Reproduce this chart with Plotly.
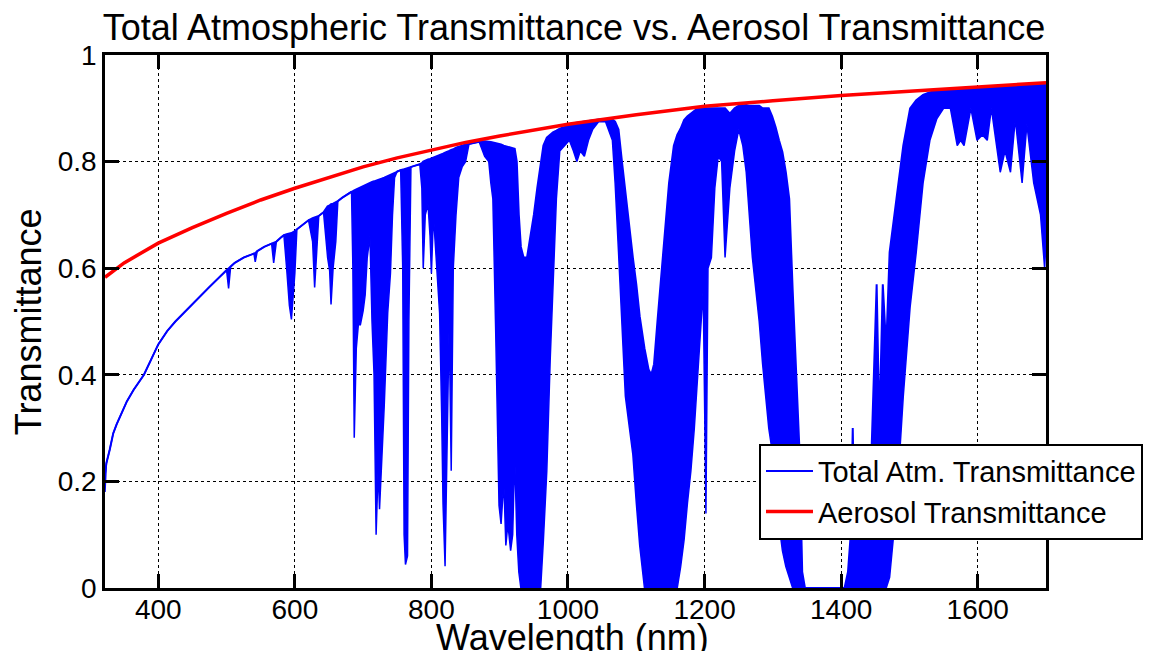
import plotly.graph_objects as go

# ---- data ----
wavelength = [322, 324, 329, 334, 339, 344, 349, 354, 364, 379, 390, 400, 413, 425, 438, 450, 463, 475, 487, 500,
              503, 506, 512, 525, 537, 540, 542, 545, 555, 566, 569, 573, 580, 584, 588, 592, 595, 598, 600, 603,
              610, 620, 626, 629, 632, 635, 642, 648, 651, 653, 656, 660, 663, 670, 677, 683, 685, 687, 690, 693,
              696, 700, 703, 706, 710, 713, 716, 719, 722, 724, 727, 731, 736, 740, 743, 746, 750, 755, 758, 760,
              762, 765, 767, 770, 775, 783, 786, 788, 791, 795, 798, 800, 803, 808, 812, 815, 817, 820, 823, 826,
              829, 832, 836, 840, 845, 850, 855, 862, 870, 878, 884, 887, 890, 894, 897, 899, 902, 906, 909, 912,
              916, 919, 922, 925, 928, 931, 935, 940, 945, 950, 955, 960, 964, 969, 974, 978, 983, 988, 995, 1002,
              1008, 1013, 1018, 1024, 1030, 1036, 1045, 1055, 1065, 1069, 1074, 1079, 1084, 1090, 1095, 1100, 1105, 1112, 1118, 1122,
              1126, 1131, 1136, 1141, 1148, 1155, 1160, 1165, 1170, 1175, 1180, 1185, 1190, 1195, 1198, 1202, 1205, 1210, 1215, 1220,
              1225, 1230, 1237, 1244, 1250, 1256, 1261, 1265, 1270, 1275, 1280, 1285, 1289, 1294, 1299, 1304, 1309, 1314, 1319, 1324,
              1329, 1334, 1339, 1343, 1347, 1380, 1405, 1410, 1414, 1417, 1420, 1425, 1432, 1437, 1442, 1447, 1452, 1456, 1461, 1466,
              1471, 1481, 1491, 1501, 1510, 1520,
              1530, 1540, 1550, 1560, 1570, 1575, 1580, 1590, 1599, 1607, 1614, 1620, 1633, 1640, 1648, 1655, 1665, 1672, 1682, 1692,
              1698, 1700]

# upper envelope of the total atmospheric transmittance
total_upper = [0.215, 0.234, 0.26, 0.29, 0.307, 0.322, 0.337, 0.35, 0.372, 0.40, 0.43, 0.457, 0.482, 0.50, 0.517, 0.533, 0.549, 0.565, 0.58, 0.597,
               0.600, 0.603, 0.61, 0.62, 0.626, 0.628, 0.628, 0.632, 0.64, 0.646, 0.648, 0.65, 0.658, 0.662, 0.664, 0.665, 0.666, 0.668, 0.67, 0.673,
               0.68, 0.69, 0.694, 0.695, 0.696, 0.698, 0.705, 0.716, 0.718, 0.72, 0.721, 0.723, 0.726, 0.733, 0.739, 0.744, 0.745, 0.746, 0.748, 0.75,
               0.752, 0.754, 0.756, 0.758, 0.76, 0.762, 0.763, 0.764, 0.766, 0.767, 0.768, 0.77, 0.773, 0.775, 0.777, 0.779, 0.782, 0.784, 0.785, 0.786,
               0.787, 0.788, 0.789, 0.79, 0.792, 0.795, 0.797, 0.80, 0.802, 0.804, 0.805, 0.806, 0.807, 0.809, 0.812, 0.814, 0.815, 0.817, 0.818, 0.82,
               0.822, 0.823, 0.826, 0.828, 0.83, 0.832, 0.833, 0.835, 0.837, 0.838, 0.838, 0.837, 0.836, 0.835, 0.834, 0.833, 0.832, 0.83, 0.829, 0.828,
               0.826, 0.825, 0.824, 0.80, 0.70, 0.64, 0.62, 0.62, 0.66, 0.70, 0.75, 0.80, 0.83, 0.845, 0.85, 0.855, 0.858, 0.862, 0.865, 0.87,
               0.872, 0.873, 0.874, 0.876, 0.877, 0.878, 0.879, 0.88, 0.879, 0.875, 0.86, 0.80, 0.74, 0.68, 0.62, 0.57, 0.51, 0.45, 0.41, 0.40,
               0.42, 0.50, 0.58, 0.65, 0.76, 0.83, 0.85, 0.862, 0.878, 0.885, 0.89, 0.895, 0.90, 0.90, 0.90, 0.90, 0.90, 0.90, 0.90, 0.90,
               0.90, 0.90, 0.89, 0.90, 0.905, 0.906, 0.906, 0.905, 0.905, 0.905, 0.905, 0.90, 0.90, 0.90, 0.885, 0.865, 0.84, 0.818, 0.78, 0.73,
               0.56, 0.42, 0.257, 0.03, 0.0, 0.0, 0.0, 0.03, 0.10, 0.30, 0.08, 0.15, 0.10, 0.23, 0.15, 0.36, 0.57, 0.30, 0.57, 0.45,
               0.63, 0.73, 0.83, 0.90, 0.915, 0.925,
               0.93, 0.932, 0.934, 0.935, 0.936, 0.936, 0.937, 0.938, 0.938, 0.939, 0.939, 0.94, 0.941, 0.941, 0.942, 0.942, 0.943, 0.944, 0.944, 0.945,
               0.946, 0.946]

# lower envelope of the total atmospheric transmittance
total_lower = [0.18, 0.234, 0.26, 0.29, 0.307, 0.322, 0.337, 0.35, 0.372, 0.40, 0.43, 0.457, 0.482, 0.50, 0.517, 0.533, 0.549, 0.565, 0.58, 0.597,
               0.562, 0.603, 0.61, 0.62, 0.626, 0.628, 0.612, 0.632, 0.64, 0.646, 0.61, 0.65, 0.658, 0.662, 0.60, 0.53, 0.504, 0.56, 0.59, 0.673,
               0.68, 0.69, 0.65, 0.564, 0.63, 0.698, 0.705, 0.62, 0.595, 0.532, 0.60, 0.65, 0.726, 0.733, 0.739, 0.744, 0.60, 0.282, 0.45, 0.494,
               0.494, 0.52, 0.55, 0.62, 0.66, 0.50, 0.40, 0.10, 0.225, 0.148, 0.225, 0.345, 0.516, 0.59, 0.70, 0.77, 0.782, 0.784, 0.60, 0.10,
               0.044, 0.06, 0.50, 0.79, 0.792, 0.795, 0.75, 0.60, 0.70, 0.72, 0.66, 0.59, 0.70, 0.60, 0.516, 0.327, 0.158, 0.041, 0.295, 0.50,
               0.22, 0.60, 0.70, 0.77, 0.79, 0.80, 0.833, 0.835, 0.837, 0.81, 0.80, 0.76, 0.73, 0.49, 0.29, 0.155, 0.12, 0.20, 0.08, 0.12,
               0.07, 0.10, 0.25, 0.10, 0.03, 0.0, 0.0, 0.0, 0.0, 0.0, 0.0, 0.0, 0.09, 0.22, 0.43, 0.56, 0.73, 0.82, 0.83, 0.84,
               0.82, 0.80, 0.82, 0.81, 0.84, 0.86, 0.875, 0.875, 0.84, 0.76, 0.63, 0.49, 0.36, 0.30, 0.25, 0.16, 0.08, 0.0, 0.0, 0.0,
               0.0, 0.0, 0.0, 0.0, 0.0, 0.0, 0.0, 0.04, 0.09, 0.16, 0.22, 0.30, 0.39, 0.50, 0.56, 0.14, 0.60, 0.62, 0.75, 0.81,
               0.80, 0.62, 0.75, 0.82, 0.86, 0.83, 0.78, 0.70, 0.62, 0.56, 0.50, 0.42, 0.36, 0.30, 0.257, 0.19, 0.12, 0.07, 0.04, 0.02,
               0.0, 0.0, 0.0, 0.0, 0.0, 0.0, 0.0, 0.0, 0.0, 0.0, 0.0, 0.0, 0.0, 0.0, 0.0, 0.0, 0.0, 0.0, 0.0, 0.0,
               0.02, 0.155, 0.36, 0.527, 0.63, 0.76,
               0.84, 0.88, 0.90, 0.90, 0.83, 0.84, 0.83, 0.90, 0.84, 0.85, 0.84, 0.90, 0.78, 0.82, 0.78, 0.88, 0.76, 0.87, 0.76, 0.70,
               0.60, 0.65]

aerosol_wavelength = [322, 350, 400, 450, 500, 550, 600, 650, 700, 750, 800, 850, 900, 950, 1000, 1100, 1200, 1300, 1400, 1500, 1600, 1700]
aerosol_t = [0.583, 0.61, 0.647, 0.676, 0.703, 0.728, 0.750, 0.770, 0.790, 0.807, 0.822, 0.836, 0.848, 0.859, 0.870, 0.888, 0.904, 0.914, 0.924, 0.932, 0.940, 0.948]

x_ticks = [400, 600, 800, 1000, 1200, 1400, 1600]
y_ticks = [0, 0.2, 0.4, 0.6, 0.8, 1]
y_tick_labels = ["0", "0.2", "0.4", "0.6", "0.8", "1"]

FONT = "Liberation Sans, Arial, sans-serif"
BLUE = "#0000ff"
RED = "#ff0000"

fig = go.Figure()
fig.add_trace(go.Scatter(x=wavelength, y=total_upper, mode="lines", name="Total Atm. Transmittance",
                         line=dict(color=BLUE, width=2)))
fig.add_trace(go.Scatter(x=wavelength, y=total_lower, mode="lines", showlegend=False,
                         line=dict(color=BLUE, width=1.5), fill="tonexty", fillcolor=BLUE))
fig.add_trace(go.Scatter(x=aerosol_wavelength, y=aerosol_t, mode="lines", name="Aerosol Transmittance",
                         line=dict(color=RED, width=3.5)))

axis_common = dict(showline=True, linecolor="black", linewidth=2.5, mirror="ticks",
                   ticks="inside", ticklen=14, tickwidth=2.5, tickcolor="black",
                   showgrid=True, gridcolor="black", gridwidth=1.2, griddash="dot",
                   zeroline=False, automargin=False,
                   tickfont=dict(family=FONT, size=28, color="black"))

fig.update_layout(
    width=1155, height=651,
    margin=dict(l=105, r=106, t=55, b=63),
    paper_bgcolor="white", plot_bgcolor="white",
    font=dict(family=FONT, color="black"),
    title=dict(text="Total Atmospheric Transmittance vs. Aerosol Transmittance",
               font=dict(family=FONT, size=36, color="black"),
               x=0.497, xanchor="center", y=0.958, yanchor="middle"),
    xaxis=dict(range=[322, 1700], tickvals=x_ticks, ticklabelstandoff=-5, **axis_common),
    yaxis=dict(range=[0, 1], tickvals=y_ticks, ticktext=y_tick_labels, **axis_common),
    legend=dict(x=0.695, y=0.271, xanchor="left", yanchor="top", traceorder="normal",
                bgcolor="white", bordercolor="black", borderwidth=2, itemwidth=47,
                font=dict(family=FONT, size=29, color="black"), tracegroupgap=0),
    showlegend=True,
    annotations=[
        dict(text="Wavelength (nm)", xref="paper", yref="paper", x=0.497, y=-0.092,
             xanchor="center", yanchor="middle", showarrow=False,
             font=dict(family=FONT, size=36, color="black")),
        dict(text="Transmittance", xref="paper", yref="paper", x=-0.081, y=0.5,
             xanchor="center", yanchor="middle", showarrow=False, textangle=-90,
             font=dict(family=FONT, size=36, color="black")),
    ],
)

fig.write_html("out.html", config={"displayModeBar": False},
               post_script="document.body.style.margin='0';")
